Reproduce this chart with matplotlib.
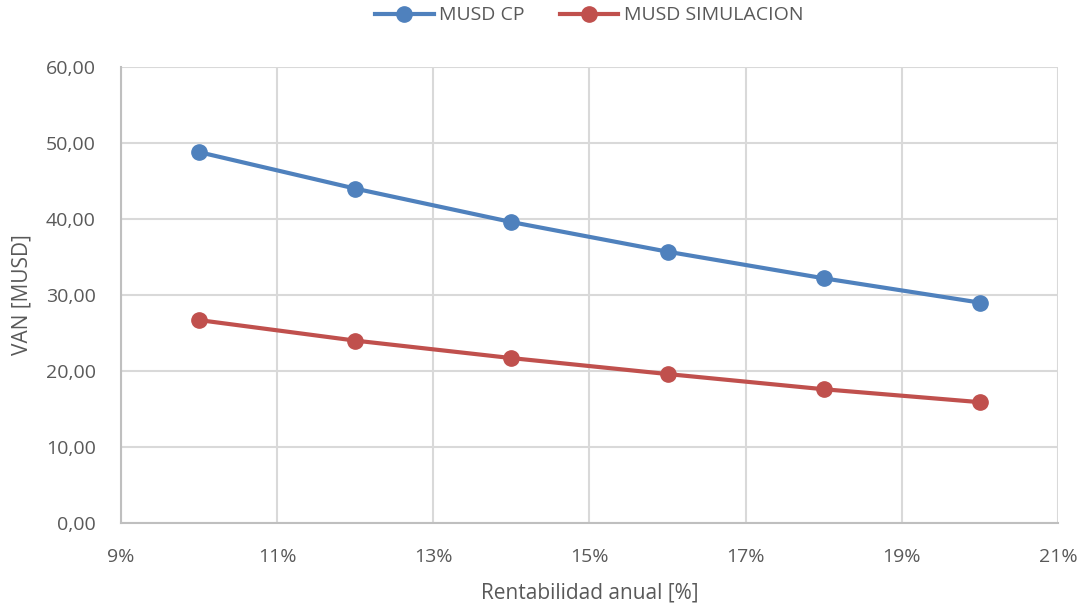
import matplotlib.pyplot as plt
from matplotlib.ticker import FuncFormatter

# Tasa de descuento anual y VAN de cada escenario
tasas = [0.10, 0.12, 0.14, 0.16, 0.18, 0.20]
van_cp = [48.8, 44.0, 39.6, 35.7, 32.2, 29.0]
van_sim = [26.7, 24.0, 21.7, 19.6, 17.6, 15.9]

azul = '#4f81bd'
rojo = '#c0504d'
gris = '#595959'

plt.rcParams['font.family'] = ['Open Sans', 'DejaVu Sans']

fig = plt.figure(figsize=(10.92, 6.08), dpi=100)
ax = fig.add_axes([0.1108, 0.1398, 0.858, 0.750])

ax.plot(tasas, van_cp, color=azul, linewidth=3, marker='o', markersize=11, label='MUSD CP')
ax.plot(tasas, van_sim, color=rojo, linewidth=3, marker='o', markersize=11, label='MUSD SIMULACION')

ax.set_xlim(0.09, 0.21)
ax.set_ylim(0, 60)
ax.set_xticks([0.09, 0.11, 0.13, 0.15, 0.17, 0.19, 0.21])
ax.set_yticks(range(0, 61, 10))
ax.xaxis.set_major_formatter(FuncFormatter(lambda v, p: f'{round(v * 100)}%'))
ax.yaxis.set_major_formatter(FuncFormatter(lambda v, p: f'{v:.2f}'.replace('.', ',')))

ax.grid(True, color='#d9d9d9', linewidth=1.5)
ax.set_axisbelow(True)
for lado in ['top', 'right']:
    ax.spines[lado].set_visible(False)
ax.spines['left'].set_color('#bfbfbf')
ax.spines['bottom'].set_color('#bfbfbf')
ax.spines['left'].set_linewidth(1.5)
ax.spines['bottom'].set_linewidth(1.5)
ax.tick_params(length=0, labelsize=14, labelcolor=gris)
ax.tick_params(axis='x', pad=18)
ax.tick_params(axis='y', pad=18)

ax.set_xlabel('Rentabilidad anual [%]', fontsize=15, color=gris, labelpad=12)
ax.set_ylabel('VAN [MUSD]', fontsize=15, color=gris, labelpad=10)

ax.legend(loc='lower center', bbox_to_anchor=(0.5, 1.055), ncol=2, frameon=False,
          fontsize=14, labelcolor=gris, handlelength=3, handletextpad=0.3,
          columnspacing=1.8)

fig.savefig('out.png', dpi=100)
